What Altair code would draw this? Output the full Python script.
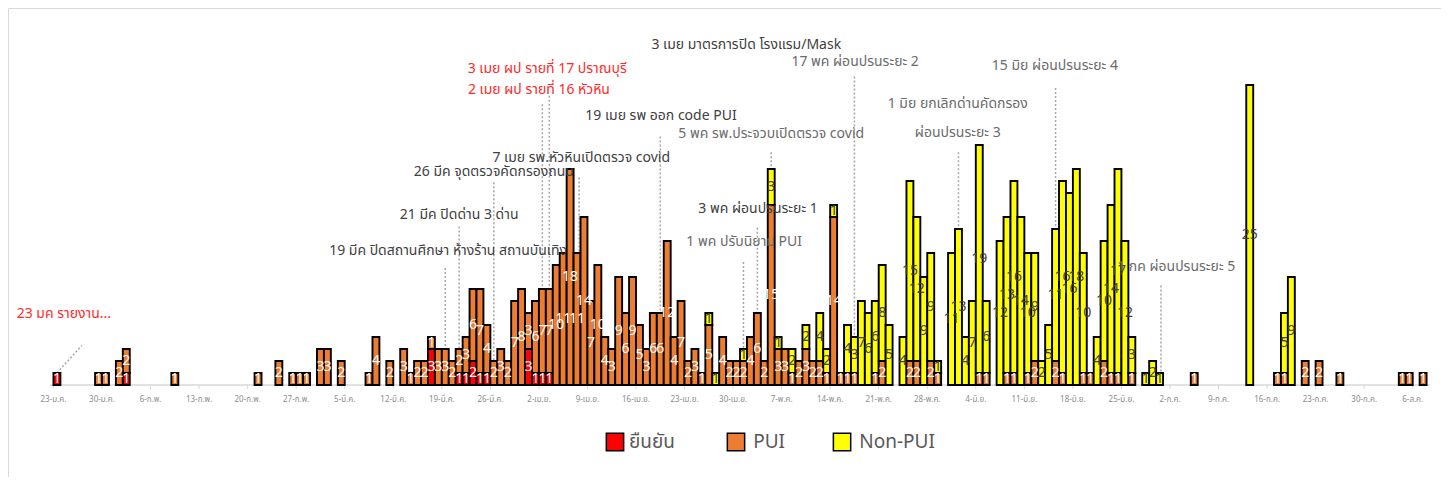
import altair as alt
import pandas as pd

# ---------------- data (day index from 23-Jan) ----------------
days = [0, 6, 7, 9, 10, 17, 29, 32, 34, 35, 36, 38, 39, 41, 45, 46, 48, 50, 51, 52, 53,
        54, 55, 56, 57, 58, 59, 60, 61, 62, 63, 64, 65, 66, 67, 68, 69, 70, 71, 72, 73,
        74, 75, 76, 77, 78, 79, 80, 81, 82, 83, 84, 85, 86, 87, 88, 89, 90, 91, 92, 93,
        94, 95, 96, 97, 98, 99, 100, 101, 102, 103, 104, 105, 106, 107, 108, 109, 110,
        111, 112, 113, 114, 115, 116, 117, 118, 119, 120, 122, 123, 124, 125, 126, 127,
        129, 130, 131, 132, 133, 134, 136, 137, 138, 139, 140, 141, 142, 143, 144, 145,
        146, 147, 148, 149, 150, 151, 152, 153, 154, 155, 157, 158, 159, 164, 172, 176,
        177, 178, 180, 182, 185, 194, 195, 197]
confirmed = [1, 0, 0, 0, 1, 0, 0, 0, 0, 0, 0, 0, 0, 0, 0, 0, 0, 0, 0, 0, 0,
             3, 0, 0, 0, 1, 1, 2, 1, 1, 0, 0, 0, 0, 0, 3, 1, 1, 1, 0, 0,
             0, 0, 0, 0, 0, 0, 0, 0, 0, 0, 0, 0, 0, 0, 0, 0, 0, 0, 0, 0,
             0, 0, 0, 0, 0, 0, 0, 0, 0, 0, 0, 0, 0, 0, 0, 0, 0,
             0, 0, 0, 0, 0, 0, 0, 0, 0, 0, 0, 0, 0, 0, 0, 0,
             0, 0, 0, 0, 0, 0, 0, 0, 0, 0, 0, 0, 0, 0, 0, 0,
             0, 0, 0, 0, 0, 0, 0, 0, 0, 0, 0, 0, 0, 0, 0, 0,
             0, 0, 0, 0, 0, 0, 0, 0]
pui = [0, 1, 1, 2, 2, 1, 1, 2, 1, 1, 1, 3, 3, 2, 1, 4, 2, 3, 1, 2, 2,
       1, 3, 3, 2, 2, 3, 6, 7, 4, 2, 3, 2, 7, 8, 3, 6, 7, 7, 10, 11,
       18, 11, 14, 7, 10, 4, 3, 9, 6, 9, 5, 3, 6, 6, 12, 4, 7, 2, 3, 1,
       5, 0, 4, 2, 2, 2, 4, 6, 2, 15, 3, 3, 1, 2, 3, 2, 2,
       1, 14, 1, 1, 1, 0, 0, 1, 2, 0, 0, 2, 2, 0, 2, 1,
       0, 0, 0, 0, 1, 1, 0, 1, 1, 0, 1, 2, 0, 0, 2, 1,
       0, 0, 1, 1, 0, 2, 1, 1, 0, 1, 0, 0, 0, 1, 0, 1,
       1, 0, 2, 2, 1, 1, 1, 1]
non_pui = [0, 0, 0, 0, 0, 0, 0, 0, 0, 0, 0, 0, 0, 0, 0, 0, 0, 0, 0, 0, 0,
           0, 0, 0, 0, 0, 0, 0, 0, 0, 0, 0, 0, 0, 0, 0, 0, 0, 0, 0, 0,
           0, 0, 0, 0, 0, 0, 0, 0, 0, 0, 0, 0, 0, 0, 0, 0, 0, 0, 0, 0,
           1, 1, 0, 0, 0, 1, 0, 0, 0, 3, 1, 0, 2, 0, 2, 0, 4,
           2, 1, 0, 4, 3, 7, 6, 6, 8, 5, 4, 15, 12, 9, 9, 1,
           11, 13, 4, 7, 19, 6, 12, 13, 16, 14, 10, 9, 2, 5, 11, 16,
           16, 18, 10, 0, 4, 10, 14, 17, 12, 3, 1, 2, 1, 0, 25, 0,
           5, 9, 0, 0, 0, 0, 0, 0]

series_names = ["ยืนยัน", "PUI", "Non-PUI"]
series_colors = ["#ff0000", "#ed7d31", "#ffff00"]

tick_days = [0, 7, 14, 21, 28, 35, 42, 49, 56, 63, 70, 77, 84, 91, 98, 105, 112,
             119, 126, 133, 140, 147, 154, 161, 168, 175, 182, 189, 196]
tick_labels = ["23-ม.ค.", "30-ม.ค.", "6-ก.พ.", "13-ก.พ.", "20-ก.พ.", "27-ก.พ.",
               "5-มี.ค.", "12-มี.ค.", "19-มี.ค.", "26-มี.ค.", "2-เม.ย.", "9-เม.ย.",
               "16-เม.ย.", "23-เม.ย.", "30-เม.ย.", "7-พ.ค.", "14-พ.ค.", "21-พ.ค.",
               "28-พ.ค.", "4-มิ.ย.", "11-มิ.ย.", "18-มิ.ย.", "25-มิ.ย.", "2-ก.ค.",
               "9-ก.ค.", "16-ก.ค.", "23-ก.ค.", "30-ก.ค.", "6-ส.ค."]

# annotations: text, center day, height (cases), kind
ann_text = ["23 มค รายงาน...",
            "19 มีค ปิดสถานศึกษา ห้างร้าน สถานบันเทิง",
            "21 มีค ปิดด่าน 3 ด่าน",
            "26 มีค จุดตรวจคัดกรองถนน",
            "7 เมย รพ.หัวหินเปิดตรวจ covid",
            "3 เมย ผป รายที่ 17 ปราณบุรี",
            "2 เมย ผป รายที่ 16 หัวหิน",
            "3 เมย มาตรการปิด โรงแรม/Mask",
            "19 เมย รพ ออก code PUI",
            "5 พค รพ.ประจวบเปิดตรวจ covid",
            "3 พค ผ่อนปรนระยะ 1",
            "1 พค ปรับนิยาม PUI",
            "17 พค ผ่อนปรนระยะ 2",
            "1 มิย ยกเลิกด่านคัดกรอง",
            "ผ่อนปรนระยะ 3",
            "15 มิย ผ่อนปรนระยะ 4",
            "1 กค ผ่อนปรนระยะ 5"]
ann_day = [1.5, 56.9, 58.5, 63.5, 76.1, 71.2, 70.0, 99.9, 87.6, 103.5, 101.6,
           99.6, 115.6, 130.4, 130.4, 144.4, 161.9]
ann_height = [5.9, 11.2, 14.2, 17.75, 18.9, 26.3, 24.6, 28.3, 22.4, 20.9, 14.7,
              11.9, 26.9, 23.4, 21.0, 26.6, 9.8]
ann_kind = ["red", "dark", "dark", "dark", "dark", "red", "red", "dark", "dark",
            "gray", "dark", "gray", "gray", "gray", "gray", "gray", "gray"]

# vertical leader lines: day, top height, bottom height
vline_day = [56.5, 58.5, 63.5, 75.8, 70.5, 71.5, 87.5, 103.5, 101.5, 99.5,
             115.5, 130.5, 144.5, 159.7]
vline_top = [9.75, 13.2, 16.9, 17.3, 23.4, 24.1, 20.7, 19.4, 13.1, 10.25,
             25.7, 19.4, 24.75, 8.3]
vline_bottom = [3, 3, 2, 11, 8, 8, 6, 18, 6, 3, 4, 13, 13, 0.95]
# diagonal leader of the 23 Jan note (two end points)
diag_day = [0.5, 4.1]
diag_height = [1.0, 3.3]

# ---------------- layout in data units (plot area = whole chart) ----------------
X_DOMAIN = [-6.556, 200.08]
Y_DOMAIN = [-7.667, 31.417]
AXIS_START, AXIS_END = -0.5, 198.5
TICK_LEN = 0.33
TICK_LABEL_Y = -1.25
LEGEND_Y = -4.75
LEGEND_SQ_X = [80.97, 98.42, 113.71]
LEGEND_TX_X = [83.0, 100.9, 116.2]

# ---------------- tables ----------------
rows = []
for d, c, p, n in zip(days, confirmed, pui, non_pui):
    base = 0
    for s, v in zip(series_names, (c, p, n)):
        if v > 0:
            rows.append({"d0": d, "d1": d + 1, "dm": d + 0.5, "y0": base,
                         "y1": base + v, "ym": base + v / 2, "v": v, "series": s})
            base += v
bars_df = pd.DataFrame(rows)
lab_light = bars_df[bars_df["series"] != "Non-PUI"]
lab_dark = bars_df[bars_df["series"] == "Non-PUI"]

ann_df = pd.DataFrame({"txt": ann_text, "ax": ann_day, "ay": ann_height, "kind": ann_kind})
vl_df = pd.DataFrame({"lx": vline_day, "ltop": vline_top, "lbot": vline_bottom})
dg_df = pd.DataFrame({"gx": diag_day, "gy": diag_height})
tick_df = pd.DataFrame({"td": tick_days, "tl": tick_labels,
                        "t0": [0.0] * len(tick_days), "t1": [-TICK_LEN] * len(tick_days),
                        "ty": [TICK_LABEL_Y] * len(tick_days)})
axis_df = pd.DataFrame({"a0": [AXIS_START], "a1": [AXIS_END], "ay": [0.0]})
leg_df = pd.DataFrame({"series": series_names, "sx": LEGEND_SQ_X, "tx": LEGEND_TX_X,
                       "ly": [LEGEND_Y] * 3})

THAI = "Noto Sans Thai, Leelawadee UI, Tahoma, Noto Sans, sans-serif"

def X(field):
    return alt.X(field, scale=alt.Scale(domain=X_DOMAIN, nice=False, zero=False), axis=None)

def Y(field):
    return alt.Y(field, scale=alt.Scale(domain=Y_DOMAIN, nice=False, zero=False), axis=None)

CS = alt.Scale(domain=series_names, range=series_colors)

axis_line = alt.Chart(axis_df).mark_rule(color="#d9d9d9", strokeWidth=1.5).encode(
    x=X("a0:Q"), x2="a1:Q", y=Y("ay:Q"))

ticks = alt.Chart(tick_df).mark_rule(color="#d9d9d9", strokeWidth=1).encode(
    x=X("td:Q"), y=Y("t0:Q"), y2="t1:Q")

ticklabels = alt.Chart(tick_df).mark_text(fontSize=8, color="#8c8c8c", font=THAI,
                                          baseline="middle", align="center").encode(
    x=X("td:Q"), y=Y("ty:Q"), text="tl:N")

bars = alt.Chart(bars_df).mark_bar(stroke="black", strokeWidth=1.9).encode(
    x=X("d0:Q"), x2="d1:Q", y=Y("y0:Q"), y2="y1:Q",
    color=alt.Color("series:N", scale=CS, legend=None),
)

vals_light = alt.Chart(lab_light).mark_text(fontSize=14, baseline="middle", align="center",
                                            font="Noto Sans", color="white").encode(
    x=X("dm:Q"), y=Y("ym:Q"), text="v:Q")
vals_dark = alt.Chart(lab_dark).mark_text(fontSize=14, baseline="middle", align="center",
                                          font="Noto Sans", color="#404040").encode(
    x=X("dm:Q"), y=Y("ym:Q"), text="v:Q")

vlines = alt.Chart(vl_df).mark_rule(color="#a6a6a6", strokeWidth=1.5,
                                    strokeDash=[2, 2]).encode(
    x=X("lx:Q"), y=Y("ltop:Q"), y2="lbot:Q")

diag = alt.Chart(dg_df).mark_line(color="#a6a6a6", strokeWidth=1.5,
                                  strokeDash=[2, 2]).encode(
    x=X("gx:Q"), y=Y("gy:Q"))

notes = []
for kind, col in (("red", "#ff2a2a"), ("dark", "#404040"), ("gray", "#6b6b6b")):
    sub = ann_df[ann_df["kind"] == kind]
    notes.append(alt.Chart(sub).mark_text(fontSize=14, baseline="middle", align="center",
                                          font=THAI, color=col).encode(
        x=X("ax:Q"), y=Y("ay:Q"), text="txt:N"))

leg_sq = alt.Chart(leg_df).mark_point(shape="square", size=300, filled=True,
                                      stroke="black", strokeWidth=1.5, opacity=1).encode(
    x=X("sx:Q"), y=Y("ly:Q"),
    fill=alt.Fill("series:N", scale=CS, legend=None),
)
leg_tx = alt.Chart(leg_df).mark_text(fontSize=19, color="#595959", font=THAI,
                                     align="left", baseline="middle").encode(
    x=X("tx:Q"), y=Y("ly:Q"), text="series:N")

chart = alt.layer(
    axis_line, ticks, ticklabels, vlines, diag, bars, vals_light, vals_dark,
    *notes, leg_sq, leg_tx,
).properties(
    width=1433, height=469, padding=0,
    autosize=alt.AutoSizeParams(type="fit", contains="padding"),
).configure_view(strokeWidth=1, stroke="#d9d9d9")

chart.save("out.html", embed_options={"renderer": "svg", "actions": False})
